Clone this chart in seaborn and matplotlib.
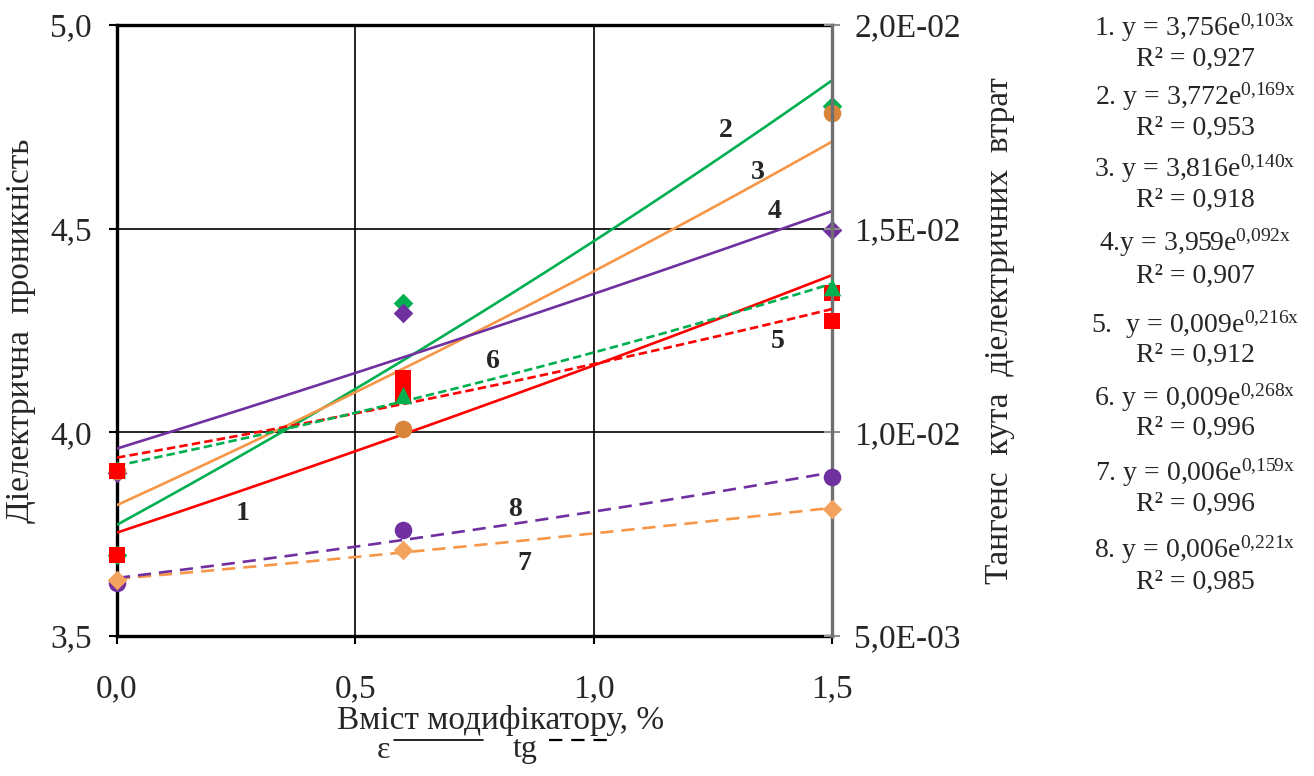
import numpy as np
import matplotlib
matplotlib.use("Agg")
import matplotlib.pyplot as plt
import seaborn as sns
from matplotlib.lines import Line2D

# ---------------- data ----------------
x_content = [0.0, 0.6, 1.5]
eps_1 = [3.699, 4.094, 4.343]
eps_2 = [3.699, 4.317, 4.800]
eps_3 = [3.906, 4.007, 4.783]
eps_4 = [3.900, 4.292, 4.497]
tg_5 = [0.00906, 0.01133, 0.01273]
tg_6 = [0.00910, 0.01092, 0.01357]
tg_7 = [0.00637, 0.00711, 0.00812]
tg_8 = [0.00630, 0.00760, 0.00890]

curve_labels = ["1", "2", "3", "4", "5", "6", "7", "8"]
eq_prefix = ["1. y = ", "2. y = ", "3. y = ", "4.y = ", "5.  y = ", "6. y = ", "7. y = ", "8. y = "]
eq_coef = ["3,756", "3,772", "3,816", "3,959", "0,009", "0,009", "0,006", "0,006"]
eq_rate = ["0,103", "0,169", "0,140", "0,092", "0,216", "0,268", "0,159", "0,221"]
r_squared = ["0,927", "0,953", "0,918", "0,907", "0,912", "0,996", "0,996", "0,985"]

x_ticks = [0.0, 0.5, 1.0, 1.5]
x_tick_labels = ["0,0", "0,5", "1,0", "1,5"]
eps_ticks = [3.5, 4.0, 4.5, 5.0]
eps_tick_labels = ["3,5", "4,0", "4,5", "5,0"]
tg_ticks = [0.005, 0.010, 0.015, 0.020]
tg_tick_labels = ["5,0E-03", "1,0E-02", "1,5E-02", "2,0E-02"]

x_title = "Вміст модифікатору, %"
eps_title = "Діелектрична  проникність"
tg_title = "Тангенс  кута  діелектричних  втрат"

# ---------------- style ----------------
sns.set_style("white")
plt.rcParams["font.family"] = ["Liberation Serif", "DejaVu Serif"]
plt.rcParams["mathtext.fontset"] = "custom"
plt.rcParams["mathtext.rm"] = "Liberation Serif"
plt.rcParams["mathtext.it"] = "Liberation Serif:italic"

RED = "#FF0000"
GREEN = "#00B050"
ORANGE_L = "#F79646"
ORANGE_M = "#D9843B"
ORANGE_D = "#F4A35E"
PURPLE = "#7030A0"

W, H = 1314, 776
fig = plt.figure(figsize=(W / 100, H / 100), dpi=100)
L, R, T, B = 117, 832, 25, 636
ax = fig.add_axes([L / W, 1 - B / H, (R - L) / W, (B - T) / H])
ax2 = ax.twinx()

ax.set_xlim(0, 1.5)
ax.set_ylim(3.5, 5.0)
ax2.set_ylim(0.005, 0.020)

xs = np.linspace(0, 1.5, 200)


def trend(xv, yv):
    b, lna = np.polyfit(np.asarray(xv), np.log(np.asarray(yv)), 1)
    return np.exp(lna) * np.exp(b * xs)


lw = 1.9
# epsilon trend lines (solid)
for yv, col in [(eps_1, RED), (eps_2, GREEN), (eps_3, ORANGE_L), (eps_4, PURPLE)]:
    sns.lineplot(x=xs, y=trend(x_content, yv), ax=ax, color=col, lw=lw, zorder=3)
# tg trend lines (dashed)
for yv, col, ls in [(tg_5, RED, (0, (3.2, 1.6))), (tg_6, GREEN, (0, (3.2, 1.6))),
                    (tg_7, ORANGE_L, (0, (5, 3))), (tg_8, PURPLE, (0, (5, 3)))]:
    sns.lineplot(x=xs, y=trend(x_content, yv), ax=ax2, color=col, lw=lw, linestyle=ls, zorder=3)

# markers
mk = dict(linewidth=0, clip_on=False, legend=False)
sns.scatterplot(x=x_content, y=eps_2, ax=ax, marker="D", s=100, color=GREEN, zorder=5, **mk)
sns.scatterplot(x=x_content, y=eps_4, ax=ax, marker="D", s=100, color=PURPLE, zorder=6, **mk)
sns.scatterplot(x=x_content, y=eps_3, ax=ax, marker="o", s=160, color=ORANGE_M, zorder=7, **mk)
sns.scatterplot(x=x_content, y=eps_1, ax=ax, marker="s", s=140, color=RED, zorder=8, **mk)

sns.scatterplot(x=x_content, y=tg_8, ax=ax2, marker="o", s=160, color=PURPLE, zorder=5, **mk)
sns.scatterplot(x=x_content, y=tg_6, ax=ax2, marker="^", s=160, color=GREEN, zorder=6, **mk)
sns.scatterplot(x=x_content, y=tg_5, ax=ax2, marker="s", s=140, color=RED, zorder=7, **mk)
sns.scatterplot(x=x_content, y=tg_7, ax=ax2, marker="D", s=100, color=ORANGE_D, zorder=8, **mk)

# axes styling
ax.set_xticks(x_ticks)
ax.set_xticklabels(x_tick_labels)
ax.set_yticks(eps_ticks)
ax.set_yticklabels(eps_tick_labels)
ax2.set_yticks(tg_ticks)
ax2.set_yticklabels(tg_tick_labels)

ax.grid(True, color="black", lw=1.2)
ax.set_axisbelow(True)
for s in ["left", "bottom", "top"]:
    ax.spines[s].set_visible(True)
    ax.spines[s].set_color("black")
    ax.spines[s].set_linewidth(2.4)
ax.spines["right"].set_visible(False)
for s in ["left", "bottom", "top"]:
    ax2.spines[s].set_visible(False)
ax2.spines["right"].set_visible(True)
ax2.spines["right"].set_color("#707070")
ax2.spines["right"].set_linewidth(2.4)

ax.tick_params(axis="y", direction="out", length=6, width=1.5, color="black",
               labelsize=24, pad=12, left=True)
ax.tick_params(axis="x", direction="out", length=6, width=1.5, color="black",
               labelsize=24, pad=21, bottom=True)
ax2.tick_params(axis="y", direction="inout", length=12, width=1.5, color="#909090",
                labelsize=24, pad=10, right=True)

ax.set_xlabel(x_title, fontsize=24)
ax.xaxis.set_label_coords((501 - L) / (R - L), (B - 705) / (B - T))
ax.set_ylabel(eps_title, fontsize=24)
ax.yaxis.set_label_coords((36 - L) / (R - L), 0.5)
ax2.set_ylabel(tg_title, fontsize=24)
ax2.yaxis.set_label_coords((984 - L) / (R - L), 0.5)

# curve number labels
label_pos = [(0.264, 3.80), (1.277, 4.742), (1.345, 4.639), (1.380, 4.541),
             (1.387, 4.222), (0.789, 4.173), (0.854, 3.679), (0.835, 3.810)]
for lab, (px, py) in zip(curve_labels, label_pos):
    ax.text(px, py, lab, fontsize=20, fontweight="bold", ha="center", va="center", zorder=10)

# equations
eq_y = [28, 97, 169, 243, 325, 398, 473, 550]
r_y = [59, 128, 200, 276, 355, 428, 504, 582]
cx = 1195 / W
for i in range(8):
    s = eq_prefix[i] + eq_coef[i] + "e$^{\\mathregular{" + eq_rate[i].replace(",", "{,}") + "x}}$"
    fig.text(cx, 1 - eq_y[i] / H, s, fontsize=20, ha="center", va="center")
    fig.text(cx, 1 - r_y[i] / H, "R² = " + r_squared[i], fontsize=20, ha="center", va="center")

# legend below x-axis title
fig.text(383 / W, 1 - 750 / H, "ε", fontsize=23, ha="center", va="center")
fig.add_artist(Line2D([394 / W, 483 / W], [1 - 740 / H, 1 - 740 / H], color="black", lw=1.2))
fig.text(525 / W, 1 - 749 / H, "tg", fontsize=23, ha="center", va="center")
fig.add_artist(Line2D([549 / W, 608 / W], [1 - 740 / H, 1 - 740 / H], color="black", lw=1.6,
                      linestyle=(0, (6, 4))))

fig.savefig("out.png", dpi=100)
